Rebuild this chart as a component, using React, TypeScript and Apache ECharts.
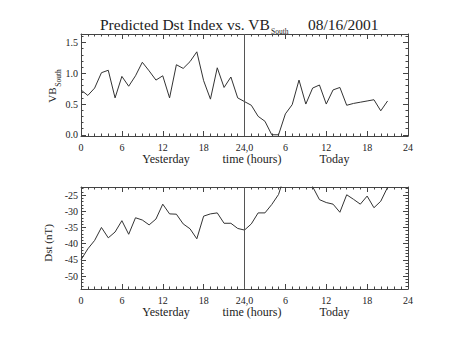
import React, { useEffect, useRef } from "react";
import * as echarts from "echarts";

const hours = [0,1,2,3,4,5,6,7,8,9,10,11,12,13,14,15,16,17,18,19,20,21,22,23,24,25,26,27,28,29,30,31,32,33,34,35,36,37,38,39,40,41,42,43,44,45];
const vbSouth = [0.73,0.64,0.76,1.01,1.05,0.60,0.95,0.79,0.96,1.18,1.04,0.89,0.96,0.60,1.14,1.08,1.19,1.35,0.88,0.58,1.09,0.77,0.94,0.60,0.54,0.48,0.30,0.22,0.00,0.00,0.34,0.49,0.89,0.50,0.76,0.81,0.50,0.73,0.77,0.48,0.51,0.53,0.55,0.57,0.39,0.55];
const dst = [-45.0,-41.6,-39.0,-35.0,-38.2,-36.4,-32.9,-37.1,-32.0,-32.7,-34.2,-32.4,-27.8,-30.8,-30.9,-33.9,-35.4,-38.5,-31.5,-30.8,-30.5,-33.7,-33.7,-35.3,-35.8,-33.9,-30.5,-30.5,-27.9,-24.8,-18.0,-15.0,-14.0,-16.5,-22.4,-26.4,-27.3,-27.8,-30.3,-24.9,-26.3,-27.8,-25.3,-28.9,-26.9,-22.6];

const xTickValues = [0,6,12,18,24,30,36,42,48];
const xTickLabels = ["0","6","12","18","24,0","6","12","18","24"];
const vbTickValues = [0,0.5,1,1.5];
const vbTickLabels = ["0.0","0.5","1.0","1.5"];
const vbMinorValues = [0.1,0.2,0.3,0.4,0.6,0.7,0.8,0.9,1.1,1.2,1.3,1.4,1.6];
const dstTickValues = [-50,-45,-40,-35,-30,-25];
const dstTickLabels = ["-50","-45","-40","-35","-30","-25"];
const dstMinorValues = [-54,-53,-52,-51,-49,-48,-47,-46,-44,-43,-42,-41,-39,-38,-37,-36,-34,-33,-32,-31,-29,-28,-27,-26,-24,-23];

const FONT = "Liberation Serif";
const TXT = "#222";
const AX = "#444";

export default function App() {
  const ref = useRef<HTMLDivElement>(null);
  useEffect(() => {
    if (!ref.current) return;
    const chart = echarts.init(ref.current, null, { renderer: "svg" });
    const gridRect = (top: number) => ({ left: 81, right: 46, top, height: 102, containLabel: false });
    const xMain = (gridIndex: number, position: string, showLabel: boolean) => ({
      type: "value", gridIndex, position, min: 0, max: 48, interval: 6,
      axisLine: { show: true, onZero: false, lineStyle: { color: AX, width: 1 } },
      axisTick: { show: true, inside: true, length: 5, lineStyle: { color: AX } },
      minorTick: { show: true, splitNumber: 6, length: 2.5, lineStyle: { color: AX } },
      splitLine: { show: false },
      axisLabel: {
        show: showLabel, margin: 6, fontFamily: FONT, fontSize: 10, color: TXT,
        formatter: (v: number) => { const i = xTickValues.indexOf(v); return i >= 0 ? xTickLabels[i] : ""; },
      },
    });
    const xHidden = (gridIndex: number) => ({ type: "value", gridIndex, min: 0, max: 48, show: false, axisLine: { onZero: false } });
    const yAxisDef = (gridIndex: number, position: string, min: number, max: number, values: number[], labels: string[] | null, len: number, line: boolean) => ({
      type: "value", gridIndex, position, min, max,
      axisLine: { show: line, onZero: false, lineStyle: { color: AX, width: 1 } },
      axisTick: { show: true, inside: true, length: len, customValues: values, lineStyle: { color: AX } },
      splitLine: { show: false },
      axisLabel: labels
        ? { show: true, customValues: values, margin: 3, fontFamily: FONT, fontSize: 10, color: TXT,
            formatter: (v: number) => { const i = values.findIndex((t) => Math.abs(t - v) < 1e-6); return i >= 0 ? labels[i] : ""; } }
        : { show: false },
    });
    const vbMin = -0.02, vbMax = 1.64, dMin = -54, dMax = -22.5;
    const markLine = {
      silent: true, symbol: "none", label: { show: false },
      lineStyle: { color: "#555", type: "solid", width: 1 },
      data: [{ xAxis: 24 }],
    };
    const txt = (text: string, x: number, y: number, size: number, align = "center", rotation = 0) => ({
      type: "text", x, y, rotation,
      style: { text, fill: TXT, font: `${size}px "${FONT}"`, textAlign: align, textVerticalAlign: "middle" },
    });
    chart.setOption({
      animation: false,
      backgroundColor: "#fff",
      grid: [gridRect(34), gridRect(34), gridRect(187), gridRect(187)],
      xAxis: [xMain(0, "bottom", true), xMain(0, "top", false), xHidden(1), xMain(2, "bottom", true), xMain(2, "top", false), xHidden(3)],
      yAxis: [
        yAxisDef(0, "left", vbMin, vbMax, vbTickValues, vbTickLabels, 5, true),
        yAxisDef(0, "right", vbMin, vbMax, vbTickValues, null, 5, true),
        yAxisDef(1, "left", vbMin, vbMax, vbMinorValues, null, 2.5, false),
        yAxisDef(1, "right", vbMin, vbMax, vbMinorValues, null, 2.5, false),
        yAxisDef(2, "left", dMin, dMax, dstTickValues, dstTickLabels, 5, true),
        yAxisDef(2, "right", dMin, dMax, dstTickValues, null, 5, true),
        yAxisDef(3, "left", dMin, dMax, dstMinorValues, null, 2.5, false),
        yAxisDef(3, "right", dMin, dMax, dstMinorValues, null, 2.5, false),
      ],
      series: [
        {
          type: "line", xAxisIndex: 0, yAxisIndex: 0, symbol: "none", clip: true,
          lineStyle: { color: "#333", width: 1 },
          data: hours.map((h, i) => [h, vbSouth[i]]),
          markLine,
        },
        {
          type: "line", xAxisIndex: 3, yAxisIndex: 4, symbol: "none", clip: true,
          lineStyle: { color: "#333", width: 1 },
          data: hours.map((h, i) => [h, dst[i]]),
          markLine,
        },
      ],
      graphic: [
        txt("Predicted Dst Index vs. VB", 100, 24.5, 15.5, "left"),
        txt("South", 271, 31.5, 7.5, "left"),
        txt("08/16/2001", 308, 24.5, 15.5, "left"),
        txt("VB", 52, 95, 11, "center", Math.PI / 2),
        txt("South", 58.5, 78, 7.5, "center", Math.PI / 2),
        txt("Dst (nT)", 48, 243, 11, "center", Math.PI / 2),
        txt("Yesterday", 166, 159, 12),
        txt("time (hours)", 252, 159, 12),
        txt("Today", 334.5, 159, 12),
        txt("Yesterday", 166, 311.5, 12),
        txt("time (hours)", 252, 311.5, 12),
        txt("Today", 334.5, 311.5, 12),
      ],
    });
    return () => chart.dispose();
  }, []);
  return <div ref={ref} style={{ width: 454, height: 341, position: "absolute", left: 0, top: 0 }} />;
}
